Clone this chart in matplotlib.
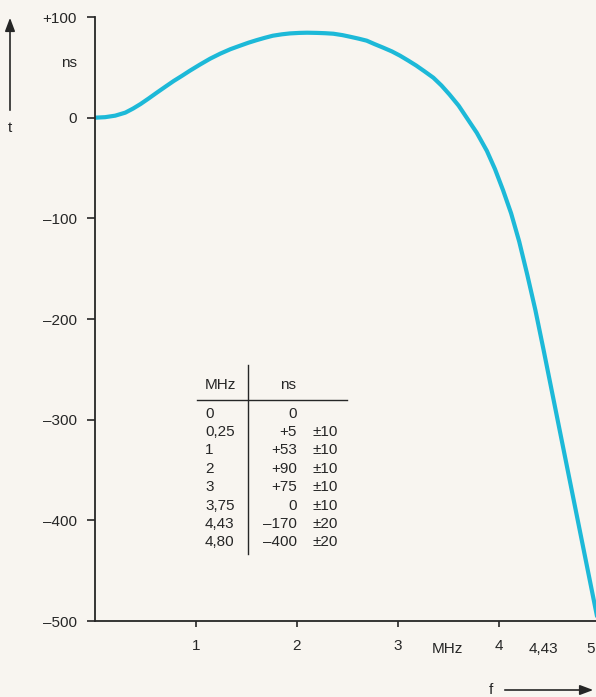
import matplotlib
matplotlib.use('Agg')
import matplotlib.pyplot as plt
from matplotlib.patches import FancyArrowPatch

plt.rcParams['font.family'] = ['Liberation Sans', 'DejaVu Sans']

# Kurve
f_mhz = [0.0, 0.1, 0.2, 0.3, 0.376, 0.45, 0.53, 0.614, 0.7, 0.78, 0.86, 0.94,
         1.04, 1.14, 1.24, 1.34, 1.436, 1.52, 1.6, 1.68, 1.76, 1.85, 1.93, 2.02,
         2.1, 2.2, 2.28, 2.36, 2.45, 2.53, 2.61, 2.69, 2.77, 2.85, 2.94, 3.02,
         3.1, 3.18, 3.26, 3.35, 3.43, 3.51, 3.6, 3.68, 3.78, 3.88, 3.96, 4.04,
         4.12, 4.2, 4.28, 4.36, 4.44, 4.52, 4.6, 4.7, 4.8, 4.9, 5.0]
t_ns = [0.0, 0.5, 2, 5, 9, 13.5, 19, 25, 31, 36.5, 41.5, 46.7,
        52.8, 58.6, 63.6, 68, 71.5, 74.5, 77, 79.3, 81.4, 82.8, 83.7, 84.2,
        84.4, 84.2, 83.9, 83.4, 82, 80.3, 78.5, 76.5, 73, 69.7, 65.8, 61.6,
        56.8, 51.8, 46.2, 39.7, 32, 23, 12, 0, -15, -33, -51, -72,
        -95, -123, -156, -191, -230, -270, -310, -360, -410, -460, -510]

# Tabelle
tab_f = ['0', '0,25', '1', '2', '3', '3,75', '4,43', '4,80']
tab_t = ['0', '+5', '+53', '+90', '+75', '0', '\u2013170', '\u2013400']
tab_tol = ['', '\u00b110', '\u00b110', '\u00b110', '\u00b110', '\u00b110', '\u00b120', '\u00b120']

yticks = [100, 0, -100, -200, -300, -400, -500]
ylabels = ['+100', '0', '\u2013100', '\u2013200', '\u2013300', '\u2013400', '\u2013500']
xticks = [1, 2, 3, 4, 5]
xlabels = ['1', '2', '3', '4', '']

bg = '#f8f5f0'
ink = '#262626'
fs = 11

fig = plt.figure(figsize=(5.96, 6.97), dpi=100, facecolor=bg)
ax = fig.add_axes([0.1594, 0.109, 0.8473, 0.8666])
ax.set_facecolor(bg)

ax.plot(f_mhz, t_ns, color='#1db9d8', lw=3.0, solid_capstyle='round',
        solid_joinstyle='round')

ax.set_xlim(0, 5)
ax.set_ylim(-500, 100)
for s in ['top', 'right']:
    ax.spines[s].set_visible(False)
for s in ['left', 'bottom']:
    ax.spines[s].set_color(ink)
    ax.spines[s].set_linewidth(1.3)

ax.set_yticks(yticks)
ax.set_yticklabels(ylabels)
ax.set_xticks(xticks)
ax.set_xticklabels(xlabels)
ax.tick_params(axis='y', length=6, width=1.2, color=ink, pad=7, labelsize=fs, labelcolor=ink)
ax.tick_params(axis='x', length=4, width=1.2, color=ink, pad=9, labelsize=fs, labelcolor=ink)

# zusätzliche Beschriftungen an der f-Achse
ax.text(3.49, -521, 'MHz', ha='center', va='top', fontsize=fs, color=ink, clip_on=False)
ax.text(4.44, -521, '4,43', ha='center', va='top', fontsize=fs, color=ink, clip_on=False)
# "5" sitzt am rechten Bildrand
fig.text(595 / 596, 1 - 641.6 / 697, '5', ha='right', va='top', fontsize=fs, color=ink)

fig.text(77 / 596, 1 - 63 / 697, 'ns', ha='right', va='center', fontsize=fs, color=ink)

# Tabelle im Diagramm
row0 = -294
dy = 18.27
ax.text(1.089, -266, 'MHz', ha='left', va='center', fontsize=fs, color=ink)
ax.text(1.91, -266, 'ns', ha='center', va='center', fontsize=fs, color=ink)
ax.plot([1.01, 2.495], [-280, -280], color=ink, lw=1.0)
ax.plot([1.515, 1.515], [-246, -433], color=ink, lw=1.0)
for i in range(len(tab_f)):
    y = row0 - i * dy
    ax.text(1.089, y, tab_f[i], ha='left', va='center', fontsize=fs, color=ink)
    ax.text(2.0, y, tab_t[i], ha='right', va='center', fontsize=fs, color=ink)
    ax.text(2.149, y, tab_tol[i], ha='left', va='center', fontsize=fs, color=ink)

# Pfeile für t und f
fig.add_artist(FancyArrowPatch(
    (10 / 596, 1 - 113 / 697), (10 / 596, 1 - 15 / 697), transform=fig.transFigure,
    arrowstyle='-|>,head_length=8,head_width=3', mutation_scale=1, color=ink, lw=1.2))
fig.text(10 / 596, 1 - 128 / 697, 't', ha='center', va='center', fontsize=fs, color=ink)
fig.add_artist(FancyArrowPatch(
    (502 / 596, 1 - 690 / 697), (596 / 596, 1 - 690 / 697), transform=fig.transFigure,
    arrowstyle='-|>,head_length=8,head_width=3', mutation_scale=1, color=ink, lw=1.2))
fig.text(491 / 596, 1 - 690 / 697, 'f', ha='center', va='center', fontsize=fs, color=ink)

fig.savefig('out.png', dpi=100, facecolor=bg)
